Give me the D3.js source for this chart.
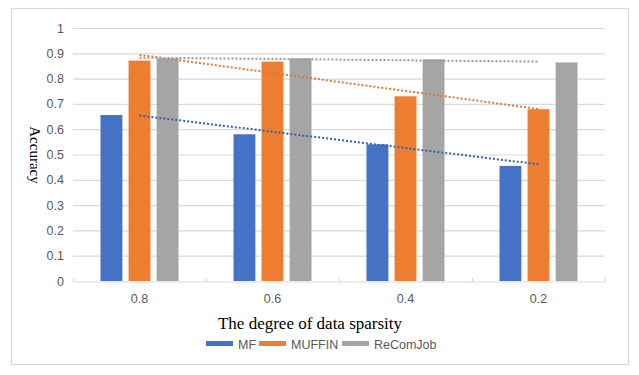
<!DOCTYPE html>
<html>
<head>
<meta charset="utf-8">
<script src="https://cdn.jsdelivr.net/npm/d3@7"></script>
<style>
  body { margin: 0; background: #fff; }
  .tick text { fill: #595959; font-family: "Liberation Sans", Arial, sans-serif; font-size: 12.5px; }
</style>
</head>
<body>
<script>
'use strict';

// Categories on the x axis (degree of data sparsity)
var categories = ["0.8", "0.6", "0.4", "0.2"];
var seriesNames = ["MF", "MUFFIN", "ReComJob"];
// values, one array per method
var mfValues = [0.656, 0.580, 0.540, 0.455];
var muffinValues = [0.871, 0.867, 0.730, 0.679];
var recomjobValues = [0.880, 0.880, 0.876, 0.864];
var yTicks = [0, 0.1, 0.2, 0.3, 0.4, 0.5, 0.6, 0.7, 0.8, 0.9, 1];

var seriesValues = [mfValues, muffinValues, recomjobValues];
var barColors = ["#4472C4", "#ED7D31", "#A5A5A5"];
var trendColors = ["#3b5fa6", "#e07a35", "#9a9a9a"];

var W = 639, H = 375;
var plot = {left: 73, right: 605, top: 28, bottom: 281};

var svg = d3.select("body").append("svg")
    .attr("width", W).attr("height", H);

// outer chart border
svg.append("rect")
    .attr("x", 11.5).attr("y", 8.5)
    .attr("width", 617).attr("height", 356)
    .attr("fill", "#fff").attr("stroke", "#d9d9d9").attr("stroke-width", 1.2);

var x = d3.scaleBand().domain(categories)
    .range([plot.left, plot.right]);
var xInner = d3.scaleBand().domain(seriesNames)
    .range([0, x.bandwidth()]).paddingInner(0.22).paddingOuter(0.98);
var y = d3.scaleLinear().domain([0, 1]).range([plot.bottom, plot.top]);

// horizontal grid
svg.append("g")
    .selectAll("line").data(yTicks.slice(1)).join("line")
    .attr("x1", plot.left).attr("x2", plot.right)
    .attr("y1", function(d) { return y(d) + 0.5; })
    .attr("y2", function(d) { return y(d) + 0.5; })
    .attr("stroke", "#d9d9d9").attr("stroke-width", 1.2);

// y axis labels only
var yAxis = svg.append("g")
    .attr("transform", "translate(" + plot.left + ",0)")
    .call(d3.axisLeft(y).tickValues(yTicks).tickSize(0).tickPadding(9)
        .tickFormat(function(d) { return d3.format("")(+d.toFixed(1)); }));
yAxis.select(".domain").remove();

// bars
seriesNames.forEach(function(name, si) {
    svg.append("g")
        .selectAll("rect").data(seriesValues[si]).join("rect")
        .attr("x", function(d, i) { return x(categories[i]) + xInner(name); })
        .attr("y", function(d) { return y(d); })
        .attr("width", xInner.bandwidth())
        .attr("height", function(d) { return y(0) - y(d); })
        .attr("fill", barColors[si]);
});

// x axis (ticks go up from the axis line)
var xAxisScale = d3.scaleLinear().domain([0, categories.length])
    .range([plot.left, plot.right]);
var xAxis = svg.append("g")
    .attr("transform", "translate(0," + (plot.bottom + 0.5) + ")")
    .call(d3.axisBottom(xAxisScale).ticks(categories.length)
        .tickSizeInner(-4).tickSizeOuter(0).tickFormat(""));
xAxis.select(".domain").attr("stroke", "#d9d9d9").attr("stroke-width", 1.2);
xAxis.selectAll(".tick line").attr("stroke", "#d9d9d9").attr("stroke-width", 1.2);

svg.append("g")
    .selectAll("text").data(categories).join("text")
    .attr("x", function(d) { return x(d) + x.bandwidth() / 2; })
    .attr("y", 303)
    .attr("text-anchor", "middle")
    .attr("fill", "#595959")
    .style("font-family", "'Liberation Sans', Arial, sans-serif")
    .style("font-size", "12.5px")
    .text(function(d) { return d; });

// linear trendlines, dotted, from first to last category centre
function linearFit(vals) {
    var n = vals.length;
    var mx = (n - 1) / 2, my = d3.mean(vals);
    var num = 0, den = 0;
    vals.forEach(function(v, i) { num += (i - mx) * (v - my); den += (i - mx) * (i - mx); });
    var slope = num / den;
    return [my - slope * mx, my + slope * (n - 1 - mx)];
}
var cx = function(c) { return x(c) + x.bandwidth() / 2; };
seriesNames.forEach(function(name, si) {
    var ends = linearFit(seriesValues[si]);
    svg.append("line")
        .attr("x1", cx(categories[0])).attr("y1", y(ends[0]))
        .attr("x2", cx(categories[categories.length - 1])).attr("y2", y(ends[1]))
        .attr("stroke", trendColors[si])
        .attr("stroke-width", 2)
        .attr("stroke-dasharray", "2,2");
});

// axis titles
svg.append("text")
    .attr("transform", "translate(30," + 155 + ") rotate(90)")
    .attr("text-anchor", "middle")
    .attr("fill", "#000")
    .style("font-family", "'Liberation Serif', 'Times New Roman', serif")
    .style("font-size", "15px")
    .text("Accuracy");

svg.append("text")
    .attr("x", 310).attr("y", 329)
    .attr("text-anchor", "middle")
    .attr("fill", "#000")
    .style("font-family", "'Liberation Serif', 'Times New Roman', serif")
    .style("font-size", "17px")
    .text("The degree of data sparsity");

// legend
var legendX = [206, 259, 342];
var legend = svg.append("g").selectAll("g").data(seriesNames).join("g")
    .attr("transform", function(d, i) { return "translate(" + legendX[i] + ",341)"; });
legend.append("rect")
    .attr("width", 27).attr("height", 5)
    .attr("fill", function(d, i) { return barColors[i]; });
legend.append("text")
    .attr("x", 32).attr("y", 8)
    .attr("fill", "#595959")
    .style("font-family", "'Liberation Sans', Arial, sans-serif")
    .style("font-size", "12.5px")
    .text(function(d) { return d; });
</script>
</body>
</html>
